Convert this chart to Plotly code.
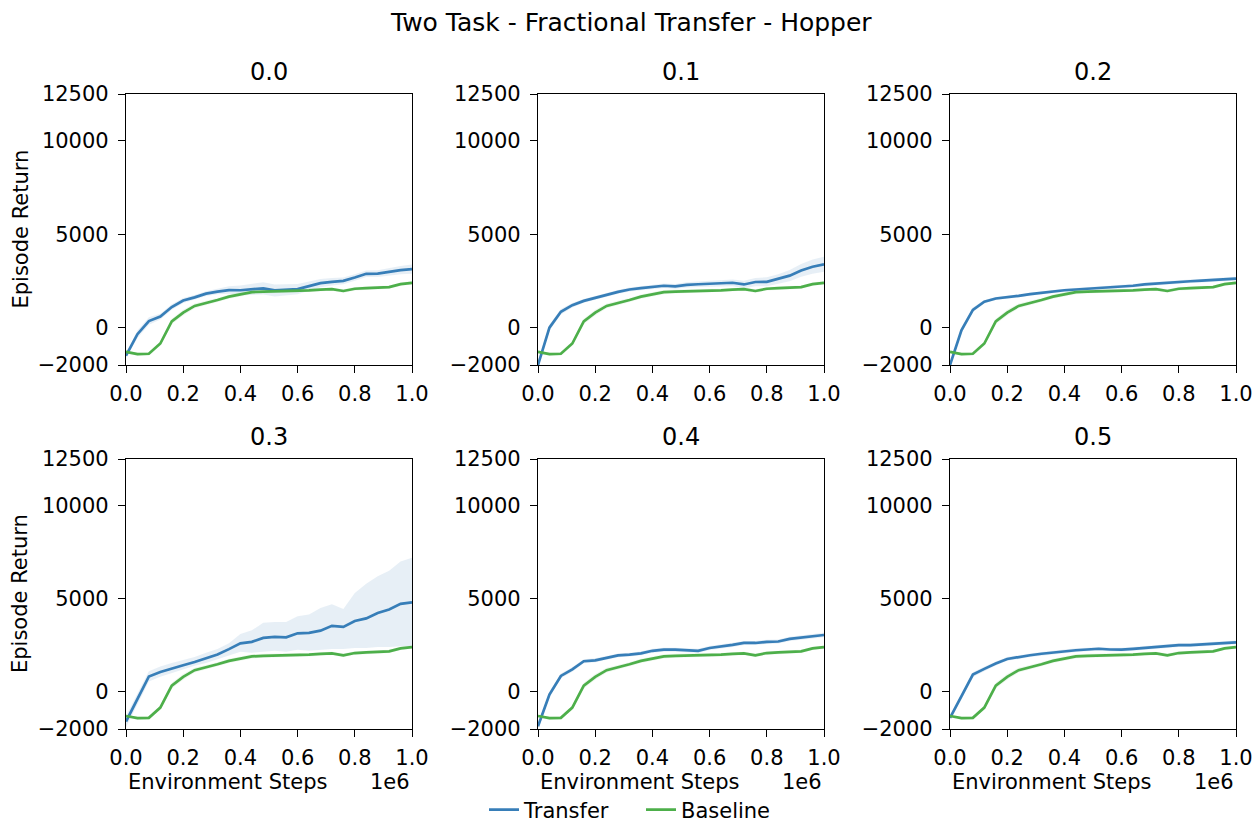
import plotly.graph_objects as go

# ---------------- data ----------------
steps = [0.00, 0.04, 0.08, 0.12, 0.16, 0.20, 0.24, 0.28, 0.32, 0.36, 0.40, 0.44, 0.48,
         0.52, 0.56, 0.60, 0.64, 0.68, 0.72, 0.76, 0.80, 0.84, 0.88, 0.92, 0.96, 1.00]

panel_titles = ["0.0", "0.1", "0.2", "0.3", "0.4", "0.5"]

baseline_mean = [-1300, -1420, -1400, -850, 330, 800, 1160, 1300, 1480, 1660, 1800, 1900, 1930,
                 1940, 1940, 1960, 1990, 2030, 2060, 1960, 2080, 2110, 2140, 2170, 2330, 2400]
baseline_spread = [80, 80, 90, 120, 150, 150, 130, 120, 110, 110, 110, 110, 110,
                   100, 100, 100, 90, 90, 90, 90, 90, 90, 90, 90, 90, 90]

transfer_00 = [-1500, -350, 350, 590, 1100, 1450, 1620, 1820, 1930, 2010, 2000, 2060, 2100,
               1990, 2020, 2060, 2220, 2380, 2450, 2500, 2680, 2880, 2890, 3000, 3080, 3130]
transfer_01 = [-2000, 0, 850, 1200, 1430, 1570, 1750, 1910, 2040, 2110, 2180, 2240, 2210,
               2290, 2320, 2350, 2400, 2400, 2310, 2440, 2450, 2600, 2780, 3060, 3260, 3390]
transfer_02 = [-2000, -140, 950, 1390, 1560, 1620, 1700, 1790, 1870, 1940, 2000, 2040, 2080,
               2110, 2130, 2170, 2240, 2310, 2360, 2400, 2440, 2480, 2510, 2540, 2580, 2620]
transfer_03 = [-1600, -400, 820, 1060, 1260, 1420, 1600, 1800, 2000, 2290, 2600, 2680, 2890,
               2950, 2920, 3140, 3160, 3280, 3540, 3480, 3800, 3940, 4230, 4420, 4720, 4800]
transfer_04 = [-1850, -150, 850, 1200, 1640, 1690, 1820, 1950, 1990, 2060, 2200, 2260, 2260,
               2240, 2200, 2350, 2420, 2520, 2620, 2620, 2680, 2700, 2840, 2900, 2980, 3050]
transfer_05 = [-1400, -250, 920, 1230, 1520, 1760, 1870, 1960, 2040, 2110, 2170, 2230, 2270,
               2310, 2270, 2260, 2300, 2350, 2420, 2460, 2500, 2500, 2540, 2580, 2620, 2650]

# symmetric half-widths of the transfer band
spread_00 = [120, 200, 200, 150, 150, 130, 120, 130, 150, 200, 250, 300, 330,
             320, 300, 280, 250, 220, 200, 180, 170, 170, 180, 200, 220, 250]
spread_01 = [100, 150, 150, 120, 100, 100, 100, 100, 110, 110, 120, 120, 130,
             140, 150, 160, 170, 180, 200, 220, 240, 260, 300, 340, 380, 400]
spread_02 = [100, 150, 120, 90, 80, 80, 80, 80, 80, 80, 80, 80, 80,
             80, 80, 80, 90, 90, 90, 90, 90, 90, 90, 90, 100, 100]
spread_04 = [100, 150, 130, 120, 110, 110, 100, 100, 100, 100, 110, 110, 110,
             110, 110, 110, 110, 110, 110, 110, 110, 110, 110, 110, 120, 120]
spread_05 = [100, 150, 130, 110, 110, 100, 100, 100, 100, 100, 100, 100, 100,
             100, 100, 100, 100, 100, 100, 100, 100, 100, 100, 100, 100, 100]
# panel 0.3 has a wide asymmetric band
upper_03 = [-1300, -100, 1100, 1350, 1550, 1700, 1870, 2100, 2300, 2600, 3100, 3300, 3700,
            3750, 3750, 4050, 4150, 4500, 4700, 4450, 5300, 5800, 6200, 6500, 7000, 7200]
lower_03 = [-1900, -700, 550, 800, 1000, 1200, 1400, 1550, 1750, 1950, 2150, 2100, 2150,
            2200, 2150, 2250, 2200, 2250, 2300, 2300, 2350, 2350, 2400, 2400, 2450, 2450]

y_tickvals = [-2000, 0, 5000, 10000, 12500]
y_ticktext = ["\u22122000", "0", "5000", "10000", "12500"]
x_tickvals = [0.0, 0.2, 0.4, 0.6, 0.8, 1.0]
x_ticktext = ["0.0", "0.2", "0.4", "0.6", "0.8", "1.0"]

# ---------------- layout geometry ----------------
# the page body has an 8px margin, so the figure starts 8px in from the window corner
OFF = 8
W, H = 1260 - OFF, 823 - OFF
col_px = [(126, 412), (538, 824), (950, 1236)]   # window pixels
row_px = [(94, 365), (459, 729)]


def px(x):
    return (x - OFF) / W


def py(y):
    return 1 - (y - OFF) / H


BLUE = "#377eb8"
GREEN = "#4daf4a"
BLUE_FILL = "rgba(55,126,184,0.12)"
GREEN_FILL = "rgba(77,175,74,0.10)"
FONT = "DejaVu Sans"
TICK_SIZE = 21
LABEL_SIZE = 21

transfers = [transfer_00, transfer_01, transfer_02, transfer_03, transfer_04, transfer_05]
spreads = [spread_00, spread_01, spread_02, None, spread_04, spread_05]

fig = go.Figure()
layout_axes = {}
annotations = []

for i in range(6):
    r, c = divmod(i, 3)
    n = i + 1
    xa = "x" if n == 1 else f"x{n}"
    ya = "y" if n == 1 else f"y{n}"
    xkey = "xaxis" if n == 1 else f"xaxis{n}"
    ykey = "yaxis" if n == 1 else f"yaxis{n}"

    t = transfers[i]
    if spreads[i] is None:
        hi, lo = upper_03, lower_03
    else:
        hi = [m + s for m, s in zip(t, spreads[i])]
        lo = [m - s for m, s in zip(t, spreads[i])]
    bhi = [m + s for m, s in zip(baseline_mean, baseline_spread)]
    blo = [m - s for m, s in zip(baseline_mean, baseline_spread)]

    # bands
    fig.add_trace(go.Scatter(x=steps, y=hi, xaxis=xa, yaxis=ya, mode="lines",
                             line=dict(width=0), showlegend=False, hoverinfo="skip"))
    fig.add_trace(go.Scatter(x=steps, y=lo, xaxis=xa, yaxis=ya, mode="lines",
                             line=dict(width=0), fill="tonexty", fillcolor=BLUE_FILL,
                             showlegend=False, hoverinfo="skip"))
    fig.add_trace(go.Scatter(x=steps, y=bhi, xaxis=xa, yaxis=ya, mode="lines",
                             line=dict(width=0), showlegend=False, hoverinfo="skip"))
    fig.add_trace(go.Scatter(x=steps, y=blo, xaxis=xa, yaxis=ya, mode="lines",
                             line=dict(width=0), fill="tonexty", fillcolor=GREEN_FILL,
                             showlegend=False, hoverinfo="skip"))
    # mean lines
    fig.add_trace(go.Scatter(x=steps, y=t, xaxis=xa, yaxis=ya, mode="lines",
                             line=dict(color=BLUE, width=2.7), name="Transfer",
                             showlegend=(i == 0)))
    fig.add_trace(go.Scatter(x=steps, y=baseline_mean, xaxis=xa, yaxis=ya, mode="lines",
                             line=dict(color=GREEN, width=2.7), name="Baseline",
                             showlegend=(i == 0)))

    x0, x1 = col_px[c]
    y0, y1 = row_px[r]
    common = dict(showline=True, mirror=True, linecolor="black", linewidth=1.2,
                  ticks="outside", ticklen=7, tickwidth=1.2, tickcolor="black",
                  showgrid=False, zeroline=False, automargin=False,
                  ticklabeloverflow="allow",
                  tickfont=dict(family=FONT, size=TICK_SIZE, color="black"))
    layout_axes[xkey] = dict(domain=[px(x0), px(x1)], range=[0, 1], anchor=ya,
                             tickvals=x_tickvals, ticktext=x_ticktext,
                             ticklabelstandoff=3, **common)
    layout_axes[ykey] = dict(domain=[py(y1), py(y0)], range=[-2000, 12500], anchor=xa,
                             tickvals=y_tickvals, ticktext=y_ticktext,
                             ticklabelstandoff=5, **common)

    # subplot title
    annotations.append(dict(text=panel_titles[i], x=px((x0 + x1) / 2), y=py(y0 - 22),
                            xref="paper", yref="paper", xanchor="center", yanchor="middle",
                            showarrow=False, font=dict(family=FONT, size=24, color="black")))
    if r == 1:
        annotations.append(dict(text="Environment Steps", x=px(x0), y=py(782),
                                xref="paper", yref="paper", xanchor="left", yanchor="middle",
                                showarrow=False, font=dict(family=FONT, size=LABEL_SIZE, color="black")))
        annotations.append(dict(text="1e6", x=px(x1), y=py(782),
                                xref="paper", yref="paper", xanchor="right", yanchor="middle",
                                showarrow=False, font=dict(family=FONT, size=LABEL_SIZE, color="black")))
    if c == 0:
        annotations.append(dict(text="Episode Return", x=px(20), y=py((y0 + y1) / 2),
                                xref="paper", yref="paper", xanchor="center", yanchor="middle",
                                textangle=-90, showarrow=False,
                                font=dict(family=FONT, size=LABEL_SIZE, color="black")))

annotations.append(dict(text="Two Task - Fractional Transfer - Hopper", x=px(631), y=py(22),
                        xref="paper", yref="paper", xanchor="center", yanchor="middle",
                        showarrow=False, font=dict(family=FONT, size=25, color="black")))

fig.update_layout(
    width=W, height=H,
    margin=dict(l=0, r=0, t=0, b=0, autoexpand=False),
    paper_bgcolor="white", plot_bgcolor="white",
    font=dict(family=FONT, size=LABEL_SIZE, color="black"),
    annotations=annotations,
    legend=dict(orientation="h", x=px(484), y=py(810), xanchor="left", yanchor="middle",
                traceorder="normal", entrywidth=112, entrywidthmode="pixels",
                font=dict(family=FONT, size=LABEL_SIZE, color="black"), itemwidth=30,
                bgcolor="rgba(0,0,0,0)"),
    **layout_axes,
)

fig.write_html("out.html")
